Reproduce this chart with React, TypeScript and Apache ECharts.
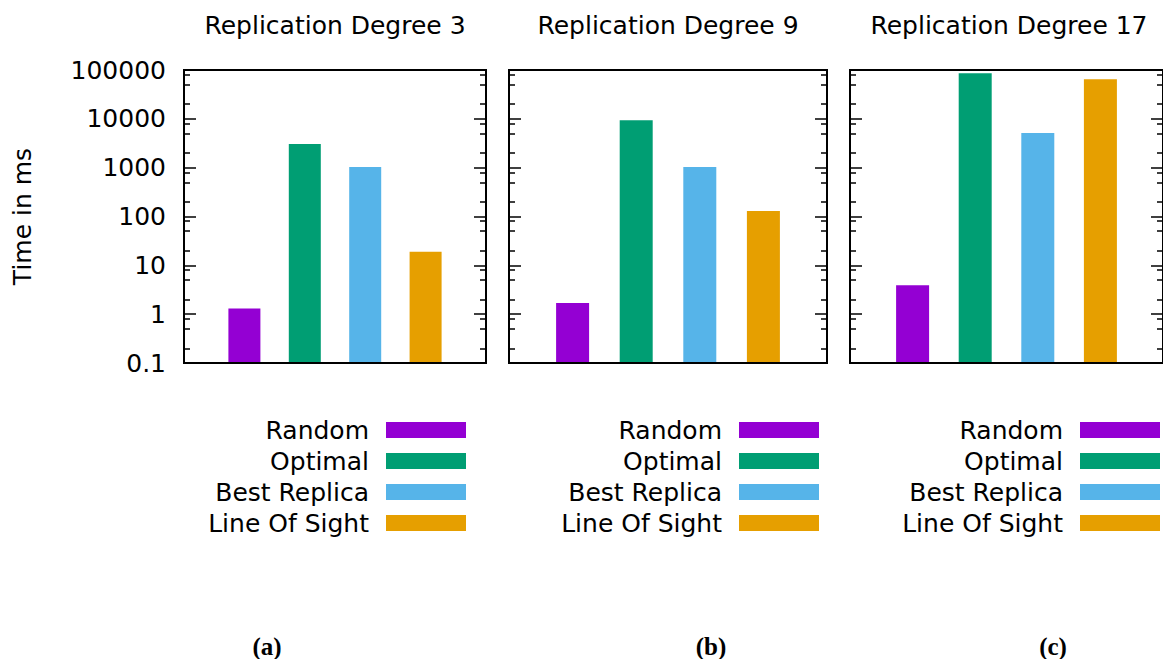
import React, { useEffect, useRef } from "react";
import * as echarts from "echarts";

// ---- data ----
const methods = ["Random", "Optimal", "Best Replica", "Line Of Sight"];
const methodColors = ["#9400d3", "#009e73", "#56b4e9", "#e69f00"];
const panelTitles = ["Replication Degree 3", "Replication Degree 9", "Replication Degree 17"];
const captions = ["(a)", "(b)", "(c)"];
const degree3 = [1.3, 3050, 1030, 19];
const degree9 = [1.7, 9300, 1030, 130];
const degree17 = [3.9, 86000, 5100, 65000];
const yTickLabels = [0.1, 1, 10, 100, 1000, 10000, 100000];
const minorMultipliers = [2, 5, 8];
const yAxisName = "Time in ms";

const panelValues = [degree3, degree9, degree17];

// ---- layout ----
const panels = [
  { left: 184, width: 302, barWidth: 32, legendRight: 369, caption: 267 },
  { left: 509, width: 318, barWidth: 33, legendRight: 722, caption: 711 },
  { left: 850, width: 318, barWidth: 33, legendRight: 1063, caption: 1053 },
];
const TOP = 70;
const HEIGHT = 293;
const FONT = "DejaVu Sans";

export default function App() {
  const ref = useRef<HTMLDivElement>(null);

  useEffect(() => {
    if (!ref.current) return;
    const chart = echarts.init(ref.current, undefined, { renderer: "svg" });

    const yMin = yTickLabels[0];
    const yMax = yTickLabels[yTickLabels.length - 1];
    const logMin = Math.log10(yMin);
    const logMax = Math.log10(yMax);
    const minorPositions: number[] = [];
    for (let k = Math.round(logMin); k < Math.round(logMax); k++) {
      minorMultipliers.forEach((m) => minorPositions.push(k + Math.log10(m)));
    }

    const grids: any[] = [];
    const xAxes: any[] = [];
    const yAxes: any[] = [];
    const series: any[] = [];
    const graphics: any[] = [];

    panels.forEach((p, i) => {
      grids.push({
        left: p.left,
        top: TOP,
        width: p.width,
        height: HEIGHT,
        show: true,
        borderColor: "#000",
        borderWidth: 2,
        backgroundColor: "transparent",
        containLabel: false,
      });
      xAxes.push({
        gridIndex: i,
        type: "category",
        data: ["", ...methods, ""],
        boundaryGap: false,
        position: "bottom",
        z: 10,
        axisLine: { show: true, onZero: false, lineStyle: { color: "#000", width: 2 } },
        axisTick: { show: false },
        axisLabel: { show: false },
        splitLine: { show: false },
      });
      const majorBase = {
        gridIndex: i,
        type: "log",
        min: yMin,
        max: yMax,
        logBase: 10,
        splitNumber: 6,
        startValue: yMin,
        axisLine: { show: false, onZero: false },
        splitLine: { show: false },
        minorTick: { show: false },
        axisTick: { show: true, inside: true, length: 12, lineStyle: { color: "#000", width: 1.5 } },
      };
      yAxes.push({
        ...majorBase,
        position: "left",
        axisLabel: {
          show: i === 0,
          margin: 18,
          color: "#000",
          fontFamily: FONT,
          fontSize: 25,
          formatter: (v: number) => (v < 1 ? v.toFixed(1) : String(Math.round(v))),
        },
      });
      yAxes.push({ ...majorBase, position: "right", axisLabel: { show: false } });
      const minorBase = {
        gridIndex: i,
        type: "value",
        min: logMin,
        max: logMax,
        axisLine: { show: false, onZero: false },
        splitLine: { show: false },
        axisLabel: { show: false },
        axisTick: {
          show: true,
          inside: true,
          length: 6,
          customValues: minorPositions,
          lineStyle: { color: "#000", width: 1.5 },
        },
      };
      yAxes.push({ ...minorBase, position: "left" });
      yAxes.push({ ...minorBase, position: "right" });

      series.push({
        type: "bar",
        xAxisIndex: i,
        yAxisIndex: i * 4,
        barWidth: p.barWidth,
        z: 2,
        data: [
          null,
          ...panelValues[i].map((v, j) => ({
            value: v,
            name: methods[j],
            itemStyle: { color: methodColors[j] },
          })),
          null,
        ],
      });

      graphics.push({
        type: "text",
        x: p.left + p.width / 2,
        y: 25,
        style: {
          text: panelTitles[i],
          fontFamily: FONT,
          fontSize: 25,
          fill: "#000",
          textAlign: "center",
          textVerticalAlign: "middle",
        },
      });
      graphics.push({
        type: "text",
        x: p.caption,
        y: 646,
        style: {
          text: captions[i],
          fontFamily: "Liberation Serif",
          fontWeight: "bold",
          fontSize: 25,
          fill: "#000",
          textAlign: "center",
          textVerticalAlign: "middle",
        },
      });
      methods.forEach((m, j) => {
        const cy = 430 + j * 31;
        graphics.push({
          type: "text",
          x: p.legendRight,
          y: cy,
          style: {
            text: m,
            fontFamily: FONT,
            fontSize: 25,
            fill: "#000",
            textAlign: "right",
            textVerticalAlign: "middle",
          },
        });
        graphics.push({
          type: "rect",
          shape: { x: p.legendRight + 17, y: cy - 8, width: 80, height: 16 },
          style: { fill: methodColors[j] },
        });
      });
    });

    graphics.push({
      type: "text",
      x: 22,
      y: TOP + HEIGHT / 2,
      rotation: Math.PI / 2,
      style: {
        text: yAxisName,
        fontFamily: FONT,
        fontSize: 25,
        fill: "#000",
        textAlign: "center",
        textVerticalAlign: "middle",
      },
    });

    chart.setOption({
      animation: false,
      backgroundColor: "#fff",
      grid: grids,
      xAxis: xAxes,
      yAxis: yAxes,
      series,
      graphic: graphics,
    });

    return () => chart.dispose();
  }, []);

  return (
    <div
      ref={ref}
      style={{ position: "absolute", left: 0, top: 0, width: 1163, height: 659 }}
    />
  );
}
